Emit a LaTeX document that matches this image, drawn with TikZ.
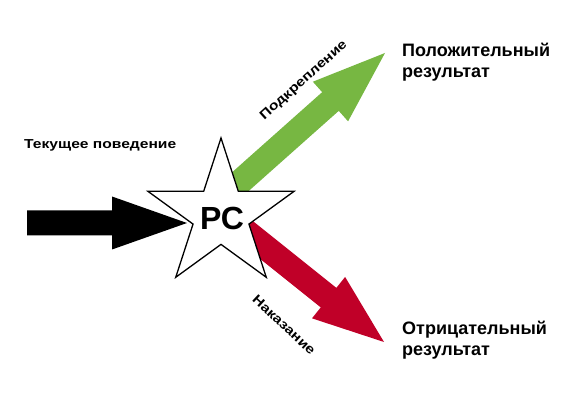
\documentclass[tikz,border=0pt]{standalone}
\usepackage{fontspec}
\setmainfont{Liberation Sans}
\newfontfamily\widesans[FakeStretch=1.2]{Liberation Sans}
\usetikzlibrary{calc}
\definecolor{arrgreen}{RGB}{119,183,66}
\definecolor{arrred}{RGB}{192,0,40}
\newcommand\shaftw{12.5pt}
\newcommand\headw{26.5pt}
\newcommand\fatarrow[4]{% #1 style, #2 start, #3 tip, #4 head length
  \coordinate (fa-b) at ($(#3)!#4!(#2)$);
  \fill[#1] ($(#2)!\shaftw!90:(#3)$) -- ($(fa-b)!\shaftw!90:(#3)$)
    -- ($(fa-b)!\headw!90:(#3)$) -- (#3) -- ($(fa-b)!\headw!-90:(#3)$)
    -- ($(fa-b)!\shaftw!-90:(#3)$) -- ($(#2)!\shaftw!-90:(#3)$) -- cycle;
}
\tikzset{
  label/.style={font=\widesans\fontsize{13}{15}\selectfont\bfseries, inner sep=0pt},
  result/.style={font=\fontsize{18}{20.5}\selectfont\bfseries, align=left, inner sep=0pt, anchor=north west},
  starline/.style={draw=black, fill=white, line width=1.3pt, line join=miter},
}
\begin{document}
\begin{tikzpicture}[x=1pt,y=1pt]
\fill[white] (0,0) rectangle (576,403);
\useasboundingbox (0,0) rectangle (576,403);
% arrow end points
\coordinate (bs) at (27,180);
\coordinate (bt) at (187,180);
\coordinate (gs) at (222,205);
\coordinate (gt) at (385,350);
\coordinate (rs) at (239,177);
\coordinate (rt) at (384,61);
\fatarrow{black}{bs}{bt}{75pt}
\fatarrow{arrgreen}{gs}{gt}{73pt}
\fatarrow{arrred}{rs}{rt}{71pt}
% star
\draw[starline, shift={(221,188)}] (90:77) -- (126:29.4) -- (162:77) -- (198:29.4) -- (234:77)
  -- (270:29.4) -- (306:77) -- (342:29.4) -- (18:77) -- (54:29.4) -- cycle;
\node[font=\fontsize{32}{36}\selectfont\bfseries, inner sep=0pt] (pc) at (222,185) {РС};
% labels
\node[label, anchor=base west] (cur) at (24,254) {Текущее поведение};
\node[label, anchor=base, rotate=42] (reinf) at (306,320) {Подкрепление};
\node[label, rotate=-43] (pun) at (284,78) {Наказание};
\node[result] (pos) at (402,360) {Положительный\\результат};
\node[result] (neg) at (402,82) {Отрицательный\\результат};
\end{tikzpicture}
\end{document}
